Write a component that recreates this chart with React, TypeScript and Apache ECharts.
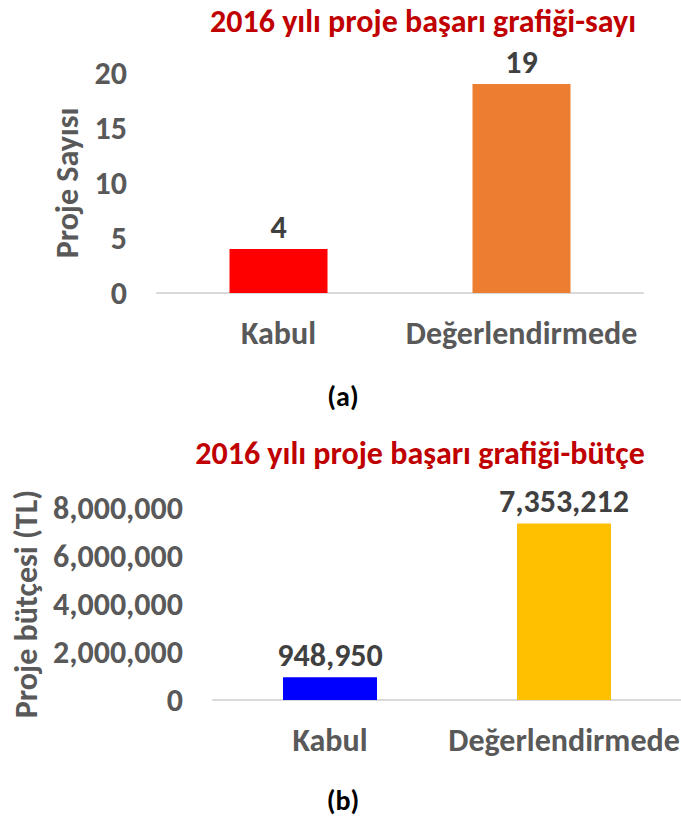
import React, { useEffect, useRef } from "react";
import * as echarts from "echarts";

const categories = ["Kabul", "Değerlendirmede"];
const countValues = [4, 19];
const budgetValues = [948950, 7353212];
const countColors = ["#FF0000", "#ED7D31"];
const budgetColors = ["#0000FF", "#FFC000"];
const countTicks = { min: 0, max: 20, interval: 5 };
const budgetTicks = { min: 0, max: 8000000, interval: 2000000 };
const titleA = "2016 yılı proje başarı grafiği-sayı";
const titleB = "2016 yılı proje başarı grafiği-bütçe";
const yNameA = "Proje Sayısı";
const yNameB = "Proje bütçesi (TL)";
const captionA = "(a)";
const captionB = "(b)";

const FONT = "Carlito, Lato, 'Open Sans', sans-serif";
const GRAY = "#595959";
const DARK = "#404040";
const FS = 32;
const FS_NAME = 32;
const FS_TITLE = 32;

const fmt = (v: number) => v.toLocaleString("en-US");

export default function App() {
  const ref = useRef<HTMLDivElement>(null);
  useEffect(() => {
    if (!ref.current) return;
    const chart = echarts.init(ref.current, undefined, { renderer: "svg" });
    const xAxisCommon = {
      type: "category" as const,
      data: categories,
      axisTick: { show: false },
      axisLine: { show: true, lineStyle: { color: "#D9D9D9", width: 2 } },
      axisLabel: {
        color: GRAY,
        fontFamily: FONT,
        fontWeight: "bold",
        fontSize: FS,
        margin: 24,
        interval: 0,
      },
    };
    const yAxisCommon = {
      type: "value" as const,
      axisLine: { show: false },
      axisTick: { show: false },
      splitLine: { show: false },
      nameLocation: "middle" as const,
      nameRotate: 90,
      nameTextStyle: { color: GRAY, fontFamily: FONT, fontWeight: "bold", fontSize: FS_NAME },
    };
    const labelStyle = {
      show: true,
      position: "top" as const,
      distance: 6,
      color: DARK,
      fontFamily: FONT,
      fontWeight: "bold",
      fontSize: FS,
    };
    chart.setOption({
      animation: false,
      backgroundColor: "#FFFFFF",
      title: [
        {
          text: titleA,
          left: 418,
          top: 0,
          textAlign: "center",
          textStyle: { color: "#C00000", fontFamily: FONT, fontWeight: "bold", fontSize: FS_TITLE },
        },
        {
          text: titleB,
          left: 415,
          top: 432,
          textAlign: "center",
          textStyle: { color: "#C00000", fontFamily: FONT, fontWeight: "bold", fontSize: FS_TITLE },
        },
      ],
      grid: [
        { left: 157, top: 73, width: 486, height: 220, outerBoundsMode: "none" },
        { left: 213, top: 508, width: 468, height: 192, outerBoundsMode: "none" },
      ],
      xAxis: [
        { ...xAxisCommon, gridIndex: 0 },
        { ...xAxisCommon, gridIndex: 1 },
      ],
      yAxis: [
        {
          ...yAxisCommon,
          gridIndex: 0,
          ...countTicks,
          name: yNameA,
          nameGap: 68,
          axisLabel: { color: GRAY, fontFamily: FONT, fontWeight: "bold", fontSize: FS, margin: 30 },
        },
        {
          ...yAxisCommon,
          gridIndex: 1,
          ...budgetTicks,
          name: yNameB,
          nameGap: 170,
          axisLabel: {
            color: GRAY,
            fontFamily: FONT,
            fontWeight: "bold",
            fontSize: FS,
            margin: 30,
            formatter: (v: number) => fmt(v),
          },
        },
      ],
      series: [
        {
          type: "bar",
          xAxisIndex: 0,
          yAxisIndex: 0,
          barWidth: 98,
          data: countValues.map((v, i) => ({ value: v, itemStyle: { color: countColors[i] } })),
          label: labelStyle,
        },
        {
          type: "bar",
          xAxisIndex: 1,
          yAxisIndex: 1,
          barWidth: 94,
          data: budgetValues.map((v, i) => ({ value: v, itemStyle: { color: budgetColors[i] } })),
          label: { ...labelStyle, formatter: (p: any) => fmt(p.value) },
        },
      ],
      graphic: [
        {
          type: "text",
          x: 343,
          y: 396,
          style: {
            text: captionA,
            fill: "#000000",
            font: `bold 28px ${FONT}`,
            align: "center",
            verticalAlign: "middle",
            textAlign: "center",
            textVerticalAlign: "middle",
          },
        },
        {
          type: "text",
          x: 343,
          y: 800,
          style: {
            text: captionB,
            fill: "#000000",
            font: `bold 28px ${FONT}`,
            align: "center",
            verticalAlign: "middle",
            textAlign: "center",
            textVerticalAlign: "middle",
          },
        },
      ],
    });
    return () => chart.dispose();
  }, []);
  return (
    <div
      ref={ref}
      style={{ position: "absolute", left: 0, top: 0, width: 681, height: 818, background: "#fff" }}
    />
  );
}
